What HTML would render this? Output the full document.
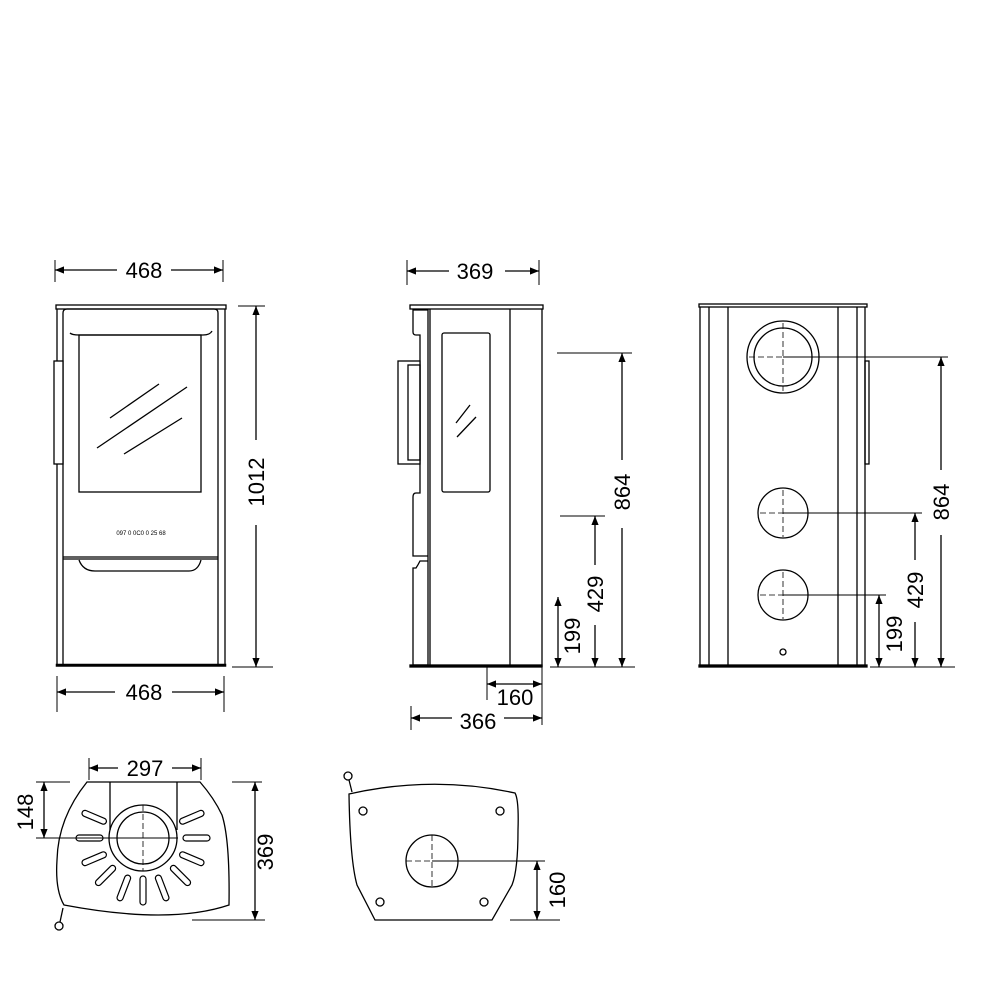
<!DOCTYPE html>
<html><head><meta charset="utf-8"><style>
html,body{margin:0;padding:0;background:#fff}
svg{display:block}
text{font-family:"Liberation Sans",sans-serif;font-size:22px;fill:#000}
</style></head><body>
<svg width="1000" height="1000" viewBox="0 0 1000 1000" xmlns="http://www.w3.org/2000/svg">
<defs>
<marker id="a" viewBox="0 0 10 10" refX="10" refY="5" markerWidth="9" markerHeight="9" orient="auto-start-reverse" markerUnits="userSpaceOnUse"><path d="M0,1 L10,5 L0,9 z" fill="#000"/></marker>
</defs>
<g fill="none" stroke="#000" stroke-width="1.3">
<!-- FRONT VIEW -->
<rect x="56" y="305" width="170" height="4" />
<line x1="57" y1="309" x2="57" y2="664"/><line x1="225" y1="309" x2="225" y2="664"/>
<path d="M63,664 V313 Q63,309 67,309 H214 Q218,309 218,313 V664"/>
<line x1="63" y1="557" x2="218" y2="557"/>
<line x1="63" y1="559" x2="218" y2="559"/>
<path d="M70,333 Q72,335 79,335 H203 Q210,335 212,331"/>
<rect x="79" y="335" width="122" height="157"/>
<line x1="110" y1="418" x2="159" y2="384"/><line x1="97" y1="448" x2="187" y2="387"/><line x1="124" y1="454" x2="182" y2="418"/>
<rect x="54" y="361" width="9" height="103" fill="#fff"/>
<path d="M79,560 Q83,571 95,571 H189 Q198,571 201,560"/>
<rect x="56" y="664" width="170" height="2.5" fill="#000" stroke-width="0.5"/>
<!-- front dims -->
<line x1="55" y1="260" x2="55" y2="282" stroke-width="1"/><line x1="223" y1="260" x2="223" y2="282" stroke-width="1"/>
<line x1="55" y1="270" x2="117" y2="270" marker-start="url(#a)"/><line x1="171" y1="270" x2="223" y2="270" marker-end="url(#a)"/>
<line x1="238" y1="306" x2="265" y2="306" stroke-width="1"/><line x1="232" y1="667" x2="273" y2="667" stroke-width="1"/>
<line x1="256" y1="306" x2="256" y2="440" marker-start="url(#a)"/><line x1="256" y1="525" x2="256" y2="667" marker-end="url(#a)"/>
<line x1="57" y1="676" x2="57" y2="712" stroke-width="1"/><line x1="224" y1="676" x2="224" y2="712" stroke-width="1"/>
<line x1="57" y1="692" x2="115" y2="692" marker-start="url(#a)"/><line x1="172" y1="692" x2="224" y2="692" marker-end="url(#a)"/>

<!-- SIDE VIEW -->
<rect x="410" y="305" width="133" height="4"/>
<line x1="428" y1="309" x2="428" y2="667"/><line x1="430" y1="309" x2="430" y2="667"/>
<line x1="542" y1="309" x2="542" y2="667"/><line x1="510" y1="309" x2="510" y2="667"/>
<rect x="442" y="333" width="48" height="159" rx="2"/>
<line x1="456" y1="423" x2="470" y2="405"/><line x1="457" y1="437" x2="476" y2="417"/>
<path d="M428,310 H413 V332 Q413,335 416,335 H420 V493 H416 Q413,493 413,497 V556 H428"/>
<path d="M428,561 H420 Q418,565 416,568 H413 V665 H428"/>
<rect x="398" y="361" width="22" height="103" fill="#fff"/>
<rect x="408" y="365" width="12" height="95"/>
<rect x="410" y="665" width="132" height="2" fill="#000"/>
<!-- side dims -->
<line x1="407" y1="260" x2="407" y2="285" stroke-width="1"/><line x1="539" y1="260" x2="539" y2="285" stroke-width="1"/>
<line x1="407" y1="271" x2="449" y2="271" marker-start="url(#a)"/><line x1="505" y1="271" x2="539" y2="271" marker-end="url(#a)"/>
<line x1="557" y1="353" x2="632" y2="353" stroke-width="1"/>
<line x1="560" y1="516" x2="605" y2="516" stroke-width="1"/>
<line x1="550" y1="667" x2="635" y2="667" stroke-width="1"/>
<line x1="622" y1="353" x2="622" y2="460" marker-start="url(#a)"/><line x1="622" y1="528" x2="622" y2="667" marker-end="url(#a)"/>
<line x1="595" y1="516" x2="595" y2="565" marker-start="url(#a)"/><line x1="595" y1="625" x2="595" y2="667" marker-end="url(#a)"/>
<line x1="558" y1="597" x2="558" y2="667" marker-start="url(#a)" marker-end="url(#a)"/>
<line x1="487" y1="667" x2="487" y2="700" stroke-width="1"/>
<line x1="542" y1="667" x2="542" y2="725" stroke-width="1"/>
<line x1="487" y1="684" x2="542" y2="684" marker-start="url(#a)" marker-end="url(#a)"/>
<line x1="411" y1="706" x2="411" y2="730" stroke-width="1"/>
<line x1="411" y1="718" x2="452" y2="718" marker-start="url(#a)"/><line x1="504" y1="718" x2="542" y2="718" marker-end="url(#a)"/>

<!-- BACK VIEW -->
<rect x="699" y="304" width="168" height="3"/>
<line x1="700" y1="307" x2="700" y2="666"/><line x1="709" y1="307" x2="709" y2="666"/>
<line x1="728" y1="307" x2="728" y2="666"/><line x1="838" y1="307" x2="838" y2="666"/>
<line x1="857" y1="307" x2="857" y2="666"/><line x1="865" y1="307" x2="865" y2="666"/>
<rect x="699" y="665" width="168" height="2" fill="#000"/>
<rect x="865" y="361" width="4" height="103"/>
<circle cx="783" cy="357" r="36"/><circle cx="783" cy="357" r="29"/>
<circle cx="783" cy="513" r="25"/><circle cx="783" cy="595" r="25"/>
<circle cx="783" cy="652" r="3"/>
<g stroke-dasharray="6,3" stroke-width="0.8">
<line x1="783" y1="323" x2="783" y2="391"/><line x1="749" y1="357" x2="783" y2="357"/>
<line x1="783" y1="490" x2="783" y2="537"/><line x1="760" y1="513" x2="783" y2="513"/>
<line x1="783" y1="572" x2="783" y2="619"/><line x1="760" y1="595" x2="783" y2="595"/>
</g>
<line x1="783" y1="357" x2="948" y2="357" stroke-width="1"/>
<line x1="783" y1="513" x2="922" y2="513" stroke-width="1"/>
<line x1="783" y1="595" x2="886" y2="595" stroke-width="1"/>
<line x1="870" y1="667" x2="955" y2="667" stroke-width="1"/>
<line x1="941" y1="357" x2="941" y2="470" marker-start="url(#a)"/><line x1="941" y1="535" x2="941" y2="667" marker-end="url(#a)"/>
<line x1="915" y1="513" x2="915" y2="560" marker-start="url(#a)"/><line x1="915" y1="622" x2="915" y2="667" marker-end="url(#a)"/>
<line x1="879" y1="595" x2="879" y2="667" marker-start="url(#a)" marker-end="url(#a)"/>

<!-- BOTTOM LEFT PLATE -->
<path d="M87,782 H200 Q214,798 222,815 Q230,840 229,905 Q170,925 64,905 Q55,890 57,860 Q58,818 87,782 Z"/>
<line x1="110" y1="782" x2="110" y2="830"/><line x1="177" y1="782" x2="177" y2="830"/>
<ellipse cx="143" cy="838" rx="34" ry="33"/>
<circle cx="143" cy="838" r="26"/>
<g stroke-width="1.2">
<g transform="translate(143,838)">
<rect x="40" y="-3" width="26" height="6" rx="3" transform="rotate(-23)"/>
<rect x="40" y="-3" width="27" height="6" rx="3" transform="rotate(0)"/>
<rect x="40" y="-3" width="26" height="6" rx="3" transform="rotate(23)"/>
<rect x="40" y="-3" width="26" height="6" rx="3" transform="rotate(45)"/>
<rect x="40" y="-3" width="27" height="6" rx="3" transform="rotate(69)"/>
<rect x="38" y="-3" width="29" height="6" rx="3" transform="rotate(90)"/>
<rect x="40" y="-3" width="27" height="6" rx="3" transform="rotate(111)"/>
<rect x="40" y="-3" width="26" height="6" rx="3" transform="rotate(135)"/>
<rect x="40" y="-3" width="26" height="6" rx="3" transform="rotate(157)"/>
<rect x="40" y="-3" width="27" height="6" rx="3" transform="rotate(180)"/>
<rect x="40" y="-3" width="26" height="6" rx="3" transform="rotate(203)"/>
</g></g>
<line x1="143" y1="805" x2="143" y2="871" stroke-dasharray="6,3" stroke-width="0.8"/>
<line x1="36" y1="838" x2="178" y2="838" stroke-width="1"/>
<line x1="36" y1="782" x2="70" y2="782" stroke-width="1"/>
<line x1="44" y1="782" x2="44" y2="838" marker-start="url(#a)" marker-end="url(#a)"/>
<line x1="89" y1="758" x2="89" y2="780" stroke-width="1"/><line x1="201" y1="758" x2="201" y2="780" stroke-width="1"/>
<line x1="89" y1="768" x2="118" y2="768" marker-start="url(#a)"/><line x1="172" y1="768" x2="201" y2="768" marker-end="url(#a)"/>
<line x1="232" y1="782" x2="262" y2="782" stroke-width="1"/><line x1="192" y1="920" x2="265" y2="920" stroke-width="1"/>
<line x1="255" y1="782" x2="255" y2="920" marker-start="url(#a)" marker-end="url(#a)"/>
<line x1="63" y1="908" x2="60" y2="922"/><circle cx="59" cy="926" r="4"/>

<!-- BOTTOM RIGHT PLATE -->
<path d="M349,794 Q433,775 515,793 Q519,800 518,830 Q518,870 512,885 L492,920 H375 L357,885 Q350,860 349,794 Z"/>
<circle cx="432" cy="861" r="26"/>
<circle cx="363" cy="811" r="4"/><circle cx="500" cy="811" r="4"/>
<circle cx="380" cy="902" r="4"/><circle cx="484" cy="902" r="4"/>
<circle cx="348" cy="776" r="4"/><line x1="349" y1="780" x2="352" y2="792"/>
<line x1="432" y1="835" x2="432" y2="887" stroke-dasharray="6,3" stroke-width="0.8"/>
<line x1="406" y1="861" x2="432" y2="861" stroke-dasharray="6,3" stroke-width="0.8"/>
<line x1="432" y1="861" x2="545" y2="861" stroke-width="1"/>
<line x1="510" y1="920" x2="560" y2="920" stroke-width="1"/>
<line x1="537" y1="861" x2="537" y2="920" marker-start="url(#a)" marker-end="url(#a)"/>
</g>
<!-- texts -->
<text x="144" y="278" text-anchor="middle">468</text>
<text x="144" y="700" text-anchor="middle">468</text>
<text transform="translate(264,482) rotate(-90)" text-anchor="middle">1012</text>
<text x="141" y="535" text-anchor="middle" style="font-size:6px">097 0 0C0 0 25 68</text>
<text x="475" y="279" text-anchor="middle">369</text>
<text transform="translate(630,492) rotate(-90)" text-anchor="middle">864</text>
<text transform="translate(603,594) rotate(-90)" text-anchor="middle">429</text>
<text transform="translate(580,636) rotate(-90)" text-anchor="middle">199</text>
<text x="515" y="705" text-anchor="middle">160</text>
<text x="478" y="729" text-anchor="middle">366</text>
<text transform="translate(949,502) rotate(-90)" text-anchor="middle">864</text>
<text transform="translate(923,590) rotate(-90)" text-anchor="middle">429</text>
<text transform="translate(902,634) rotate(-90)" text-anchor="middle">199</text>
<text x="145" y="776" text-anchor="middle">297</text>
<text transform="translate(33,812) rotate(-90)" text-anchor="middle">148</text>
<text transform="translate(273,852) rotate(-90)" text-anchor="middle">369</text>
<text transform="translate(565,890) rotate(-90)" text-anchor="middle">160</text>
</svg>
</body></html>
